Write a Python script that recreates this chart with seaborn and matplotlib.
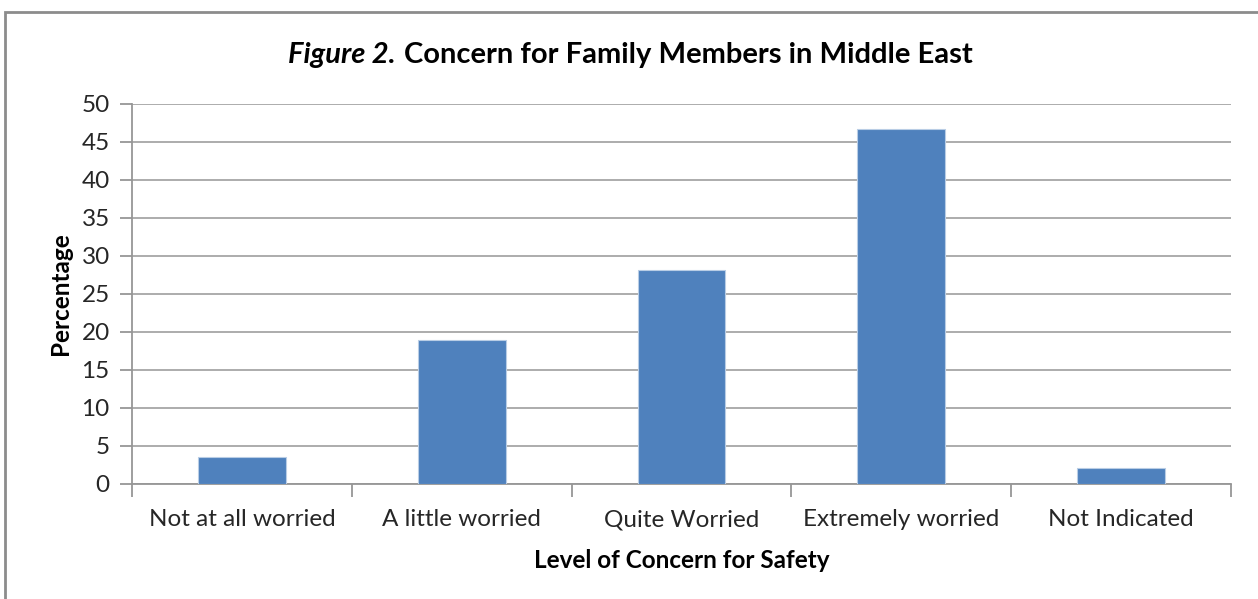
import matplotlib
matplotlib.use("Agg")
import matplotlib.pyplot as plt
import seaborn as sns
import pandas as pd
from matplotlib.patches import Rectangle

categories = ["Not at all worried", "A little worried", "Quite Worried",
              "Extremely worried", "Not Indicated"]
percentages = [3.5, 19.0, 28.2, 46.7, 2.1]
yticks = [0, 5, 10, 15, 20, 25, 30, 35, 40, 45, 50]

df = pd.DataFrame({"category": categories, "percentage": percentages})

sns.set_theme(style="white")
FONT = ["Lato", "DejaVu Sans"]
plt.rcParams["font.family"] = FONT

W, H = 1258, 599
fig = plt.figure(figsize=(W / 100, H / 100), dpi=100)
fig.patch.set_facecolor("white")

def fx(px):
    return px / W

def fy(py):
    return 1 - py / H

ax = fig.add_axes([fx(132), fy(484), fx(1231) - fx(132), fy(104) - fy(484)])

sns.barplot(data=df, x="category", y="percentage", ax=ax, color="#4F81BD",
            width=0.4, saturation=1, edgecolor="#B9CDE5", linewidth=0.8, zorder=3)

ax.set_ylim(0, 50)
ax.set_xlim(-0.5, len(categories) - 0.5)
ax.set_yticks(yticks)
ax.set_yticklabels([str(v) for v in yticks])
ax.yaxis.grid(True, color="#A6A6A6", linewidth=1.3, zorder=0)
ax.set_axisbelow(True)

for s in ["top", "right"]:
    ax.spines[s].set_visible(False)
for s in ["left", "bottom"]:
    ax.spines[s].set_color("#969696")
    ax.spines[s].set_linewidth(1.3)

ax.tick_params(axis="y", which="major", direction="out", length=9, width=1.3,
               color="#969696", labelsize=17.5, labelcolor="#262626", pad=7, left=True)
ax.tick_params(axis="x", which="major", bottom=False, labelsize=17.5,
               labelcolor="#262626", pad=12)
# category boundary ticks
ax.set_xticks([i - 0.5 for i in range(len(categories) + 1)], minor=True)
ax.tick_params(axis="x", which="minor", direction="out", length=9, width=1.3,
               color="#969696", bottom=True)

ax.set_xlabel("Level of Concern for Safety", fontsize=17.5, fontweight="bold",
              color="black", labelpad=14)
ax.set_ylabel("Percentage", fontsize=17.5, fontweight="bold", color="black",
              labelpad=7)

fig.text(fx(396), fy(55), "Figure 2.", fontsize=21, fontweight="bold",
         fontstyle="italic", ha="right", va="center", color="black")
fig.text(fx(404), fy(55), "Concern for Family Members in Middle East", fontsize=21,
         fontweight="bold", ha="left", va="center", color="black")

fig.patches.append(Rectangle((fx(5), fy(640)), fx(1300) - fx(5), fy(12) - fy(640),
                             transform=fig.transFigure, fill=False,
                             edgecolor="#8C8C8C", linewidth=2, zorder=10))

fig.savefig("out.png", dpi=100, facecolor="white")
